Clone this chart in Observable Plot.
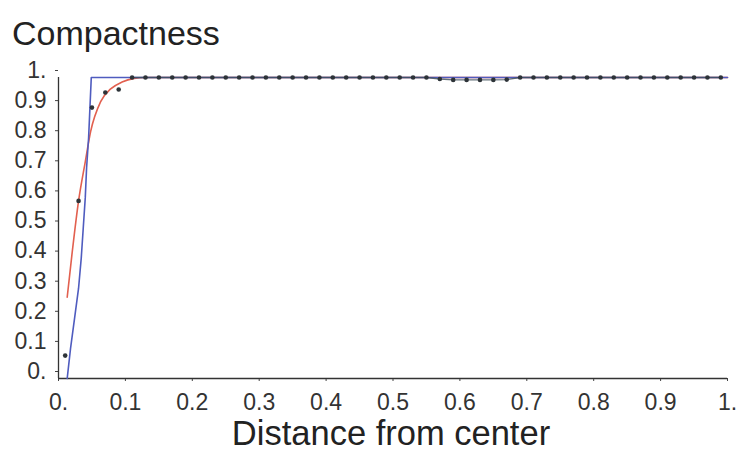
<!DOCTYPE html>
<html><head><meta charset="utf-8">
<script src="https://cdn.jsdelivr.net/npm/d3@7"></script>
<script src="https://cdn.jsdelivr.net/npm/@observablehq/plot@0.6"></script>
<style>
body{margin:0;background:#fff;}
#chart{width:744px;height:455px;}
</style>
</head><body>
<div id="chart"></div>
<script>
// Sample points (dots)
const dotX = [0.01,0.03,0.05,0.07,0.09,0.11,0.13,0.15,0.17,0.19,0.21,0.23,0.25,0.27,0.29,0.31,0.33,0.35,0.37,0.39,0.41,0.43,0.45,0.47,0.49,0.51,0.53,0.55,0.57,0.59,0.61,0.63,0.65,0.67,0.69,0.71,0.73,0.75,0.77,0.79,0.81,0.83,0.85,0.87,0.89,0.91,0.93,0.95,0.97,0.99];
const dotY = [0.076,0.59,0.90,0.95,0.96,1,1,1,1,1,1,1,1,1,1,1,1,1,1,1,1,1,1,1,1,1,1,1,0.995,0.992,0.992,0.992,0.992,0.993,1,1,1,1,1,1,1,1,1,1,1,1,1,1,1,1];
// Blue curve
const blueX = [0.013,0.018,0.024,0.03,0.034,0.037,0.04,0.042,0.045,0.047,0.049,1.0];
const blueY = [0,0.1,0.2,0.3,0.4,0.5,0.6,0.7,0.8,0.9,1.0,1.0];
// Red curve
const redX = [0.013,0.02,0.03,0.04,0.048,0.063,0.078,0.095,0.113,0.13,1.0];
const redY = [0.27,0.41,0.59,0.72,0.82,0.92,0.962,0.985,0.997,1.0,1.0];
// Ticks
const xTicks = [0,0.1,0.2,0.3,0.4,0.5,0.6,0.7,0.8,0.9,1];
const yTicks = [0,0.1,0.2,0.3,0.4,0.5,0.6,0.7,0.8,0.9,1];
const titleText = "Compactness";
const xLabelText = "Distance from center";

const dots = dotX.map((x,i)=>({x, y: dotY[i]}));
const topDots = dots.filter(d => d.y >= 0.99);
const blue = blueX.map((x,i)=>({x, y: blueY[i]}));
const red = redX.map((x,i)=>({x, y: redY[i]}));
const fmt = d => d === 0 ? "0." : d === 1 ? "1." : d3.format(".1f")(d);

const plot = Plot.plot({
  width: 744, height: 455,
  marginLeft: 58, marginRight: 17, marginTop: 77, marginBottom: 77,
  style: {fontFamily: "'Liberation Sans', Arial, sans-serif", background: "#fff", color: "#333"},
  x: {domain: [0,1]},
  y: {domain: [0,1]},
  marks: [
    Plot.axisX({ticks: xTicks, tickFormat: fmt, tickSize: 3, tickPadding: 12, fontSize: 23, label: null, stroke: "#444", fill: "#333"}),
    Plot.axisY({ticks: yTicks, tickFormat: fmt, tickSize: 3, tickPadding: 9, fontSize: 23, label: null, dy: -7, stroke: "#444", fill: "#333"}),
    Plot.ruleY([0], {stroke: "#333", strokeWidth: 1.3}),
    Plot.ruleX([0], {stroke: "#333", strokeWidth: 1.3}),
    Plot.line(red, {x: "x", y: "y", stroke: "#e2604f", strokeWidth: 1.6, curve: "monotone-x"}),
    Plot.line(blue, {x: "x", y: "y", stroke: "#4f5cbf", strokeWidth: 1.6}),
    Plot.line(topDots, {x: "x", y: "y", stroke: "#3c4d58", strokeWidth: 1.3, strokeOpacity: 0.8}),
    Plot.dot(dots, {x: "x", y: "y", r: 2.3, fill: "#2d3338", stroke: "none"})
  ]
});
document.getElementById("chart").appendChild(plot);
const svg = d3.select(plot);
svg.append("text").attr("x", 12).attr("y", 45).attr("text-anchor", "start").attr("font-size", 34).attr("fill", "#222").text(titleText);
svg.append("text").attr("x", 391).attr("y", 445).attr("text-anchor", "middle").attr("font-size", 34.5).attr("fill", "#222").text(xLabelText);
</script>
</body></html>
